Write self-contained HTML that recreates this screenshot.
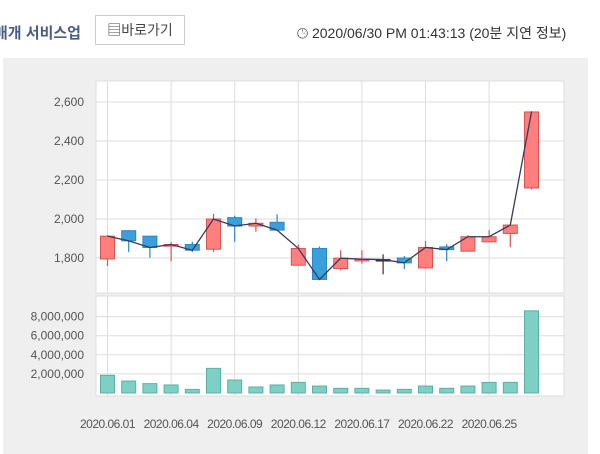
<!DOCTYPE html>
<html><head><meta charset="utf-8"><style>
body{margin:0;width:600px;height:454px;background:#fff;font-family:"Liberation Sans","Noto Sans CJK KR",sans-serif;overflow:hidden;position:relative}
.t{position:absolute;white-space:nowrap}
</style></head><body>
<div class="t" style="left:-6px;top:22px;font-size:15px;font-weight:bold;color:#4a5d85">매개 서비스업</div>
<div class="t" style="left:95px;top:15px;width:90px;height:30px;border:1px solid #ccc;box-sizing:border-box;font-size:14px;color:#444;line-height:28px;text-align:center">▤바로가기</div>
<div class="t" style="left:297px;top:23px;font-size:14px;color:#333">🕒︎ 2020/06/30 PM 01:43:13 (20분 지연 정보)</div>
<svg width="600" height="454" style="position:absolute;left:0;top:0">
<rect x="3" y="58" width="585" height="396" fill="#efefef"/>
<rect x="96" y="81" width="468" height="212" fill="#fff" stroke="#ddd"/>
<rect x="96" y="296" width="468" height="100" fill="#fff" stroke="#ddd"/>
<g id="grid"></g><g id="marks"></g>
</svg>
<script>
const dates=["2020.06.01","2020.06.02","2020.06.03","2020.06.04","2020.06.05","2020.06.08","2020.06.09","2020.06.10","2020.06.11","2020.06.12","2020.06.15","2020.06.16","2020.06.17","2020.06.18","2020.06.19","2020.06.22","2020.06.23","2020.06.24","2020.06.25","2020.06.26","2020.06.29"];
const opens=[1795,1940,1912,1861,1869,1845,2007,1964,1983,1763,1849,1746,1785,1792,1800,1749,1857,1835,1883,1926,2159];
const highs=[1917,1943,1912,1883,1883,2026,2017,2004,2024,1869,1859,1840,1840,1819,1810,1888,1871,1917,1943,1969,2554];
const lows=[1759,1831,1802,1783,1831,1831,1883,1935,1943,1763,1690,1737,1771,1716,1743,1749,1783,1835,1883,1855,2151];
const closes=[1912,1888,1854,1869,1840,2000,1964,1978,1943,1849,1690,1799,1794,1792,1775,1854,1843,1909,1909,1969,2549];
const volumes=[1.85,1.25,0.98,0.84,0.38,2.58,1.36,0.63,0.84,1.11,0.73,0.49,0.49,0.31,0.38,0.73,0.49,0.73,1.11,1.11,8.6];
const priceTicks=[1800,2000,2200,2400,2600];
const volTicks=[2,4,6,8];
const labelIdx=[0,3,6,9,12,15,18];
const NS="http://www.w3.org/2000/svg";
const xs=i=>107.5+21.2*i, yp=p=>219-(p-2000)*0.195, yv=v=>393-v*9.55;
function mk(t,a,par){const e=document.createElementNS(NS,t);for(const k in a)e.setAttribute(k,a[k]);par.appendChild(e);return e;}
const G=document.getElementById('grid'),M=document.getElementById('marks');
priceTicks.forEach(p=>{mk('line',{x1:96,x2:564,y1:yp(p),y2:yp(p),stroke:'#ddd'},G);
 const t=mk('text',{x:84,y:yp(p)+4,'text-anchor':'end','font-size':12,fill:'#555'},G);t.textContent=p.toLocaleString('en-US');
 
 });
volTicks.forEach(v=>{mk('line',{x1:96,x2:564,y1:yv(v),y2:yv(v),stroke:'#ddd'},G);
 const t=mk('text',{x:84,y:yv(v)+4,'text-anchor':'end','font-size':12,fill:'#555'},G);t.textContent=(v*1e6).toLocaleString('en-US');
 
 });
labelIdx.forEach(i=>{mk('line',{x1:xs(i),x2:xs(i),y1:81,y2:293,stroke:'#ddd'},G);mk('line',{x1:xs(i),x2:xs(i),y1:296,y2:396,stroke:'#ddd'},G);
 const t=mk('text',{x:xs(i),y:428,'text-anchor':'middle','font-size':12,fill:'#555','letter-spacing':'-0.5'},G);t.textContent=dates[i];
 
 });
dates.forEach((d,i)=>{const x=xs(i),up=closes[i]>opens[i],eq=Math.abs(closes[i]-opens[i])<3;
 const col=eq?'#333':up?'#d9534f':'#2a86c4',fill=eq?'#333':up?'#ff7f7f':'#3aa0dc';
 const w=mk('line',{x1:x,x2:x,y1:yp(highs[i]),y2:yp(lows[i]),stroke:col,'stroke-width':1.2},M);
 
 
 const top=yp(Math.max(opens[i],closes[i])),h=Math.max(1.5,yp(Math.min(opens[i],closes[i]))-top);
 const b=mk('rect',{x:x-7,y:top,width:14,height:h,fill:fill,stroke:col},M);
 
 
 const v=mk('rect',{x:x-7,y:yv(volumes[i]),width:14,height:393-yv(volumes[i]),fill:'#7fd0c4',stroke:'#5bb0a4'},M);
 
 });
const pl=mk('polyline',{points:closes.map((c,i)=>xs(i)+','+yp(c)).join(' '),fill:'none',stroke:'#3a3a5a','stroke-width':1.3},M);


</script>
</body></html>
